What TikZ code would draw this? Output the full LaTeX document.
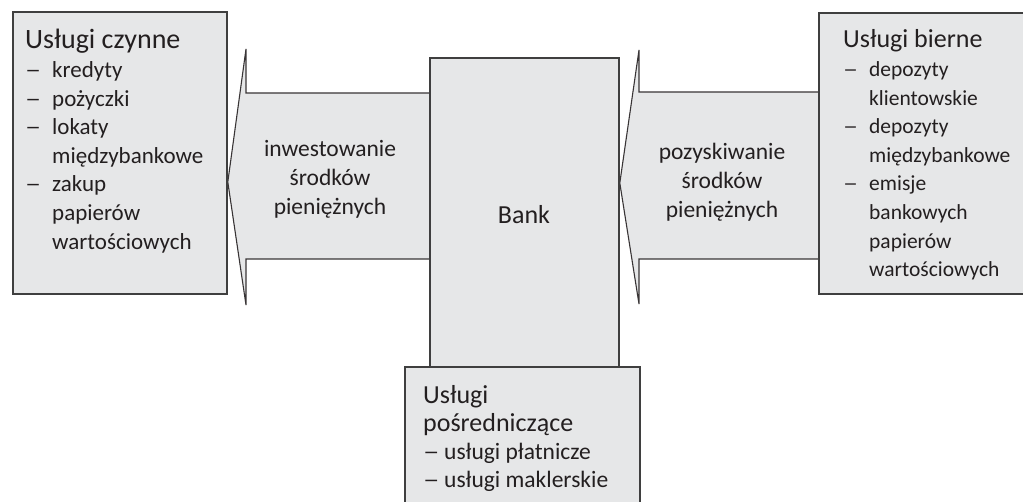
\documentclass[tikz,border=0pt]{standalone}
\usepackage{fontspec}
\usepackage{graphicx}
\setmainfont{Carlito}
\pgfdeclarelayer{background}
\pgfsetlayers{background,main}
\definecolor{boxfill}{HTML}{E6E7E8}
\definecolor{boxline}{HTML}{3F3F3F}
\definecolor{ink}{HTML}{231F20}
\newlength\dashw
\newcommand\li[1]{\makebox[\dashw][l]{\scalebox{1.4}[1]{–}}#1}
\newcommand\lc[1]{\hspace*{\dashw}#1}
\newcommand\headfont{\fontsize{26}{28.6}\selectfont}
\tikzset{
  box/.style={draw=boxline, line width=1.8pt, fill=boxfill, inner sep=0pt, anchor=north west},
  flow/.style={draw=ink!90, line width=1.1pt, fill=boxfill, line join=miter},
  txt/.style={inner sep=0pt, text=ink, font=\fontsize{23.5}{28.6}\selectfont},
  sidetxt/.style={inner sep=0pt, text=ink, font=\fontsize{21.5}{28.6}\selectfont},
  smalltxt/.style={inner sep=0pt, text=ink, font=\fontsize{23.5}{28}\selectfont}
}
\begin{document}
\begin{tikzpicture}[x=1pt,y=-1pt]
\useasboundingbox (0,0) rectangle (1023,502);
\clip (0,0) rectangle (1023,502);

% boxes
\node[box, minimum width=214pt, minimum height=282pt] (czynne) at (12,11) {};
\node[box, minimum width=230pt, minimum height=281pt] (bierne) at (818,12) {};
\node[box, minimum width=189pt, minimum height=360pt] (bank) at (429,57) {};
\node[box, minimum width=235pt, minimum height=170pt] (posr) at (404,366) {};

% the two broad arrows, behind the boxes
\begin{pgfonlayer}{background}
  \draw[flow] (bank.west |- 0,93) -- (246,93) -- (246,49)
     -- (czynne.east |- 0,182) -- (246,305) -- (246,259) -- (bank.west |- 0,259);
  \draw[flow] (bierne.west |- 0,92) -- (639,92) -- (639,50)
     -- (bank.east |- 0,183) -- (639,304) -- (639,259) -- (bierne.west |- 0,259);
\end{pgfonlayer}

% texts
\node[txt, font=\fontsize{23}{28.6}\selectfont, anchor=base west] (czynneT) at (25,49) {\setlength\dashw{27pt}%
  \begin{tabular}[t]{@{}l@{}}
  {\fontsize{28}{28.6}\selectfont Usługi czynne}\\
  \li{kredyty}\\
  \li{pożyczki}\\
  \li{lokaty}\\
  \lc{międzybankowe}\\
  \li{zakup}\\
  \lc{papierów}\\
  \lc{wartościowych}
  \end{tabular}};

\node[sidetxt, anchor=base west] (bierneT) at (843,48) {\setlength\dashw{26pt}%
  \begin{tabular}[t]{@{}l@{}}
  {\headfont Usługi bierne}\\
  \li{depozyty}\\
  \lc{klientowskie}\\
  \li{depozyty}\\
  \lc{międzybankowe}\\
  \li{emisje}\\
  \lc{bankowych}\\
  \lc{papierów}\\
  \lc{wartościowych}
  \end{tabular}};

\node[smalltxt, anchor=base west] (posrT) at (423,404) {\setlength\dashw{21pt}%
  \begin{tabular}[t]{@{}l@{}}
  {\headfont Usługi}\\
  {\headfont pośredniczące}\\
  \li{usługi płatnicze}\\
  \li{usługi maklerskie}
  \end{tabular}};

\node[txt, anchor=base] (invT) at (330,157) {%
  \begin{tabular}[t]{@{}c@{}}
  inwestowanie\\ środków\\ pieniężnych
  \end{tabular}};

\node[txt, anchor=base] (pozT) at (722,160) {%
  \begin{tabular}[t]{@{}c@{}}
  pozyskiwanie\\ środków\\ pieniężnych
  \end{tabular}};

\node[txt, font=\headfont, anchor=base] (bankT) at (524,224) {Bank};
\end{tikzpicture}
\end{document}
